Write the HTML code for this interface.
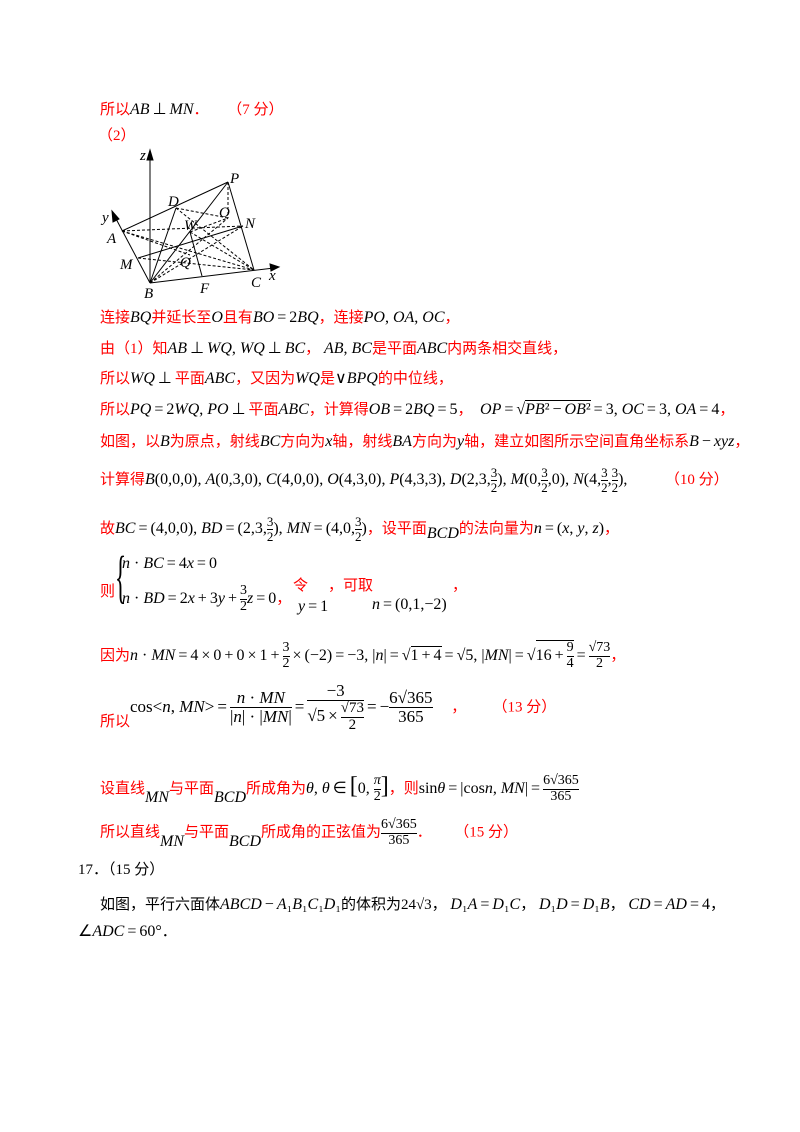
<!DOCTYPE html>
<html><head><meta charset="utf-8"><style>
body{margin:0;background:#fff;}
#p{position:relative;width:800px;height:1132px;overflow:hidden;font-family:"Liberation Serif","Noto Serif CJK SC",serif;font-size:15px;}
.l{position:absolute;white-space:nowrap;color:#f00;font-family:"Liberation Serif","Noto Sans CJK SC",sans-serif;}
.k{color:#000}
i,.m{font-family:"Liberation Serif",serif;color:#000;font-size:16px}
i{font-style:italic}
.m i{font-size:inherit}
b{font-weight:normal;margin:0 3px}
.ov{display:inline-block;border-top:1px solid #000;line-height:1.1;vertical-align:baseline}
.fr{display:inline-block;vertical-align:middle;text-align:center;font-family:"Liberation Serif",serif;color:#000;line-height:1.05}
.fr>span{display:block}
.fr>span:first-child{border-bottom:1px solid #000}
</style></head><body><div id="p">
<div class="l" style="left:100px;top:98px">所以<i>AB</i><span class="m"><b>⊥</b></span><i>MN</i>．&nbsp;&nbsp;&nbsp;&nbsp;&nbsp;（7 分）</div>
<div class="l" style="left:98px;top:124px">（2）</div>
<svg style="position:absolute;left:0;top:0" width="800" height="320" stroke="#000" stroke-width="1" fill="none">
<line x1="150" y1="283" x2="150" y2="156"/><polygon points="150,150 147,160 153,160" fill="#000"/>
<line x1="150" y1="283" x2="114" y2="215"/><polygon points="112,211 113,222 119,219" fill="#000"/>
<line x1="150" y1="283" x2="274" y2="268"/><polygon points="279,267 270,264 271,271" fill="#000"/>
<line x1="122" y1="231" x2="228" y2="182"/><line x1="228" y1="182" x2="254" y2="270"/>
<line x1="150" y1="283" x2="176" y2="208"/><line x1="150" y1="283" x2="228" y2="182"/>
<line x1="138" y1="258" x2="243" y2="226"/><line x1="190" y1="232" x2="202" y2="276"/>
<g stroke-dasharray="3,2">
<line x1="122" y1="231" x2="243" y2="226"/><line x1="122" y1="231" x2="254" y2="270"/><line x1="122" y1="231" x2="190" y2="255"/>
<line x1="176" y1="208" x2="254" y2="270"/><line x1="176" y1="208" x2="228" y2="218"/><line x1="228" y1="182" x2="228" y2="218"/>
<line x1="190" y1="232" x2="228" y2="218"/><line x1="190" y1="232" x2="254" y2="270"/><line x1="150" y1="283" x2="228" y2="218"/>
<line x1="138" y1="258" x2="254" y2="270"/><line x1="150" y1="283" x2="243" y2="226"/>
</g>
<g fill="#000" stroke="none" font-family="Liberation Serif,serif" font-style="italic" font-size="15">
<text x="140" y="160">z</text><text x="230" y="183">P</text><text x="168" y="206">D</text><text x="102" y="222">y</text>
<text x="107" y="243">A</text><text x="184" y="230">W</text><text x="219" y="217">O</text><text x="245" y="228">N</text>
<text x="120" y="269">M</text><text x="180" y="267">Q</text><text x="144" y="298">B</text><text x="200" y="293">F</text>
<text x="251" y="287">C</text><text x="269" y="280">x</text></g>
</svg>
<div class="l" style="left:100px;top:306px">连接<i>BQ</i>并延长至<i>O</i>且有<span class="m"><i>BO</i><b>=</b>2<i>BQ</i></span>，连接<span class="m"><i>PO</i>, <i>OA</i>, <i>OC</i></span>，</div>
<div class="l" style="left:100px;top:337px">由（1）知<span class="m"><i>AB</i><b>⊥</b><i>WQ</i>, <i>WQ</i><b>⊥</b><i>BC</i></span>，&nbsp;<span class="m"><i>AB</i>, <i>BC</i></span>是平面<i>ABC</i>内两条相交直线，</div>
<div class="l" style="left:100px;top:367px">所以<span class="m"><i>WQ</i><b>⊥</b></span>平面<i>ABC</i>，又因为<i>WQ</i>是<span class="m">∨<i>BPQ</i></span>的中位线，</div>
<div class="l" style="left:100px;top:398px">所以<span class="m"><i>PQ</i><b>=</b>2<i>WQ</i>, <i>PO</i><b>⊥</b></span>平面<i>ABC</i>，计算得<span class="m"><i>OB</i><b>=</b>2<i>BQ</i><b>=</b>5</span>，&nbsp;&nbsp;<span class="m"><i>OP</i><b>=</b>√<span class="ov"><i>PB</i>²<b>−</b><i>OB</i>²</span><b>=</b>3, <i>OC</i><b>=</b>3, <i>OA</i><b>=</b>4</span>，</div>
<div class="l" style="left:100px;top:430px">如图，以<i>B</i>为原点，射线<i>BC</i>方向为<i>x</i>轴，射线<i>BA</i>方向为<i>y</i>轴，建立如图所示空间直角坐标系<span class="m"><i>B</i><b>−</b><i>xyz</i></span>，</div>
<div class="l" style="left:100px;top:466px">计算得<span class="m"><i>B</i>(0,0,0), <i>A</i>(0,3,0), <i>C</i>(4,0,0), <i>O</i>(4,3,0), <i>P</i>(4,3,3), <i>D</i>(2,3,<span class="fr" style="font-size:13px"><span>3</span><span>2</span></span>), <i>M</i>(0,<span class="fr" style="font-size:13px"><span>3</span><span>2</span></span>,0), <i>N</i>(4,<span class="fr" style="font-size:13px"><span>3</span><span>2</span></span>,<span class="fr" style="font-size:13px"><span>3</span><span>2</span></span>),</span>&nbsp;&nbsp;&nbsp;&nbsp;&nbsp;&nbsp;&nbsp;&nbsp;&nbsp;&nbsp;（10 分）</div>
<div class="l" style="left:100px;top:515px">故<span class="m"><i>BC</i><b>=</b>(4,0,0), <i>BD</i><b>=</b>(2,3,<span class="fr" style="font-size:13px"><span>3</span><span>2</span></span>), <i>MN</i><b>=</b>(4,0,<span class="fr" style="font-size:13px"><span>3</span><span>2</span></span>)</span>，设平面<i style="position:relative;top:5px">BCD</i>的法向量为<span class="m"><i>n</i><b>=</b>(<i>x</i>, <i>y</i>, <i>z</i>)</span>，</div>
<div class="l" style="left:100px;top:580px">则</div>
<div class="l" style="left:115px;top:548px;font-size:58px;color:#000;font-weight:100;line-height:58px;transform:scaleX(0.4);transform-origin:left">{</div>
<div class="l" style="left:122px;top:555px"><span class="m"><i>n</i> · <i>BC</i><b>=</b>4<i>x</i><b>=</b>0</span></div>
<div class="l" style="left:122px;top:584px"><span class="m"><i>n</i> · <i>BD</i><b>=</b>2<i>x</i><b>+</b>3<i>y</i><b>+</b><span class="fr" style="font-size:14px"><span>3</span><span>2</span></span><i>z</i><b>=</b>0</span>，</div>
<div class="l" style="left:293px;top:574px">令</div>
<div class="l" style="left:328px;top:574px">，可取</div>
<div class="l" style="left:452px;top:574px">，</div>
<div class="l" style="left:298px;top:598px"><span class="m"><i>y</i><b>=</b>1</span></div>
<div class="l" style="left:372px;top:596px"><span class="m"><i>n</i><b>=</b>(0,1,−2)</span></div>
<div class="l" style="left:100px;top:640px">因为<span class="m"><i>n</i> · <i>MN</i><b>=</b>4<b>×</b>0<b>+</b>0<b>×</b>1<b>+</b><span class="fr" style="font-size:14px"><span>3</span><span>2</span></span><b>×</b>(−2)<b>=</b>−3, |<i>n</i>|<b>=</b>√<span class="ov">1<b>+</b>4</span><b>=</b>√5, |<i>MN</i>|<b>=</b>√<span class="ov">16<b>+</b><span class="fr" style="font-size:14px"><span>9</span><span>4</span></span></span><b>=</b><span class="fr" style="font-size:14px"><span>√73</span><span>2</span></span></span>，</div>
<div class="l" style="left:100px;top:710px">所以</div>
<div class="l" style="left:130px;top:682px"><span class="m" style="font-size:17px">cos&lt;<i>n</i>, <i>MN</i>&gt;<b>=</b><span class="fr"><span><i>n</i> · <i>MN</i></span><span>|<i>n</i>| · |<i>MN</i>|</span></span><b>=</b><span class="fr"><span>−3</span><span>√5<b>×</b><span class="fr" style="font-size:15px"><span>√73</span><span>2</span></span></span></span><b>=</b>−<span class="fr"><span>6√365</span><span>365</span></span></span>&nbsp;&nbsp;&nbsp;&nbsp;&nbsp;，&nbsp;&nbsp;&nbsp;&nbsp;&nbsp;&nbsp;&nbsp;（13 分）</div>
<div class="l" style="left:100px;top:773px">设直线<i style="position:relative;top:9px">MN</i>与平面<i style="position:relative;top:9px">BCD</i>所成角为<span class="m"><i>θ</i>, <i>θ</i><b>∈</b><span style="font-size:24px">[</span>0, <span class="fr" style="font-size:14px"><span><i>π</i></span><span>2</span></span><span style="font-size:24px">]</span></span>，则<span class="m">sin<i>θ</i><b>=</b>|cos<i>n</i>, <i>MN</i>|<b>=</b><span class="fr" style="font-size:14px"><span>6√365</span><span>365</span></span></span></div>
<div class="l" style="left:100px;top:818px">所以直线<i style="position:relative;top:9px">MN</i>与平面<i style="position:relative;top:9px">BCD</i>所成角的正弦值为<span class="fr" style="font-size:14px"><span>6√365</span><span>365</span></span>．&nbsp;&nbsp;&nbsp;&nbsp;&nbsp;&nbsp;（15 分）</div>
<div class="l k" style="left:78px;top:858px">17．（15 分）</div>
<div class="l k" style="left:100px;top:893px">如图，平行六面体<span class="m"><i>ABCD</i><b>−</b><i>A</i>₁<i>B</i>₁<i>C</i>₁<i>D</i>₁</span>的体积为24√3，&nbsp;<span class="m"><i>D</i>₁<i>A</i><b>=</b><i>D</i>₁<i>C</i></span>，&nbsp;<span class="m"><i>D</i>₁<i>D</i><b>=</b><i>D</i>₁<i>B</i></span>，&nbsp;<span class="m"><i>CD</i><b>=</b><i>AD</i><b>=</b>4</span>，</div>
<div class="l k" style="left:78px;top:920px"><span class="m">∠<i>ADC</i><b>=</b>60°</span>．</div>
</div></body></html>
